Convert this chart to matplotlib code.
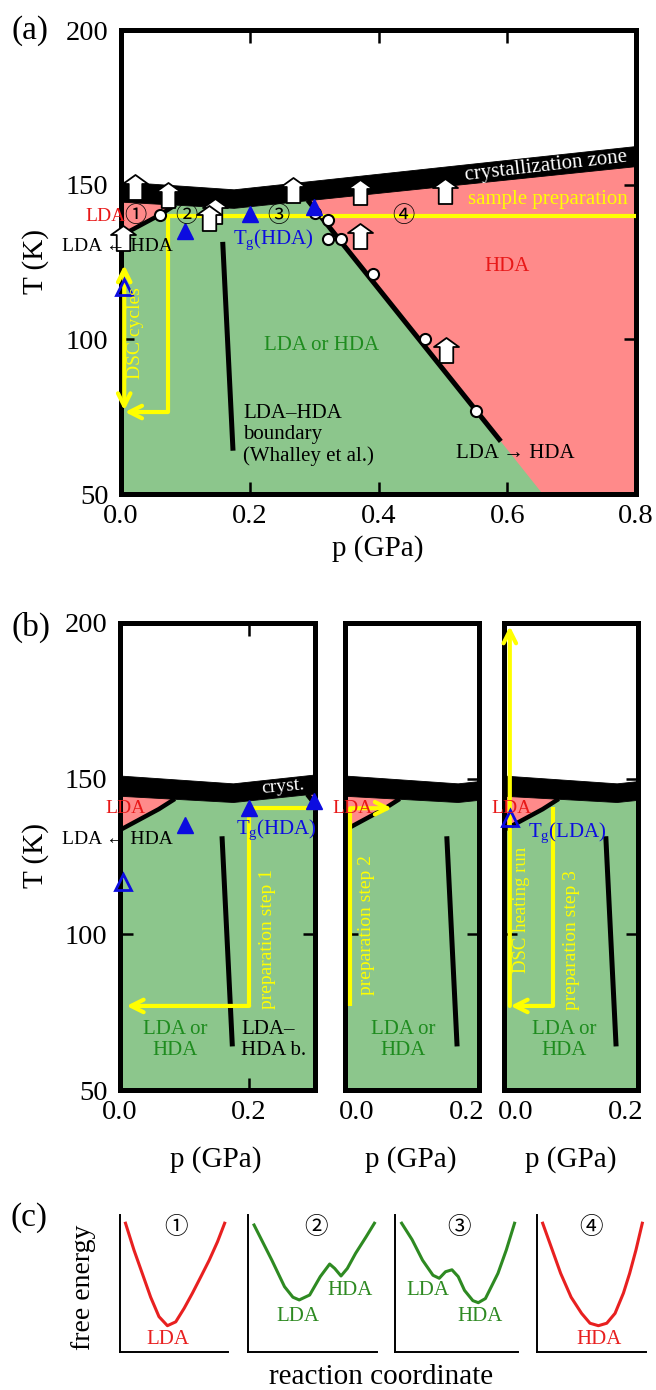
import matplotlib
matplotlib.use("Agg")
import matplotlib.pyplot as plt
from matplotlib.path import Path
from matplotlib.transforms import ScaledTranslation

plt.rcParams["font.family"] = ["Liberation Serif", "DejaVu Serif"]
plt.rcParams["mathtext.fontset"] = "custom"
plt.rcParams["mathtext.rm"] = "Liberation Serif"
plt.rcParams["mathtext.it"] = "Liberation Serif:italic"

# ─────────────────────────────────────────────
# phase diagram data  (p in GPa, T in K)
# ─────────────────────────────────────────────
CRYST_P = [0.0, 0.175, 0.8]
CRYST_TOP = [151.0, 148.5, 162.5]
CRYST_BOT = [144.5, 142.5, 156.0]

LDA_BND_P = [0.0, 0.06, 0.085]
LDA_BND_T = [133.5, 140.2, 143.5]

HDA_BND_P = [0.29, 0.59, 0.655]
HDA_BND_T = [145.0, 67.0, 50.0]

WHALLEY_P = [0.158, 0.174]
WHALLEY_T = [131.5, 64.0]

CIRCLE_P = [0.06, 0.301, 0.321, 0.321, 0.342, 0.391, 0.473, 0.552]
CIRCLE_T = [140.2, 140.8, 138.5, 132.3, 132.3, 121.0, 100.0, 76.8]

TG_HDA_P = [0.10, 0.20, 0.30]
TG_HDA_T = [135.0, 140.5, 142.8]
TG_LDA_A_P = [0.005]
TG_LDA_A_T = [116.8]
TG_LDA_B3_P = [0.009]
TG_LDA_B3_T = [137.4]

ARROW_P = [0.022, 0.073, 0.146, 0.136, 0.003, 0.267, 0.371, 0.503, 0.371, 0.505]
ARROW_T = [149.4, 146.7, 141.5, 139.2, 132.8, 148.4, 147.5, 147.8, 133.5, 96.5]

NUM_P = [0.022, 0.102, 0.244, 0.438]
NUM_T = [139.9, 139.9, 139.9, 139.9]
NUM_LABELS = ["①", "②", "③", "④"]

# yellow paths (last segment carries the arrow head)
PREP_A_P = [0.8, 0.073, 0.073, 0.006]
PREP_A_T = [140.0, 140.0, 76.5, 76.5]
DSC_A_P = [0.005, 0.005]
DSC_A_T = [77.0, 124.0]
PREP1_P = [0.302, 0.2, 0.2, 0.01]
PREP1_T = [140.5, 140.5, 77.0, 77.0]
PREP2_P = [0.008, 0.008, 0.073]
PREP2_T = [77.0, 140.5, 140.5]
PREP3_P = [0.076, 0.076, 0.01]
PREP3_T = [141.0, 77.0, 77.0]
DSC3_P = [0.009, 0.009]
DSC3_T = [77.0, 199.0]

T_TICKS = [50, 100, 150, 200]
T_LABELS = ["50", "100", "150", "200"]
P_TICKS_A = [0.0, 0.2, 0.4, 0.6, 0.8]
P_LABELS_A = ["0.0", "0.2", "0.4", "0.6", "0.8"]
P_TICKS_B = [0.0, 0.2]
P_LABELS_B = ["0.0", "0.2"]

# free-energy sketches (normalised reaction coordinate / energy)
C1_X = [0.051, 0.129, 0.206, 0.284, 0.361, 0.439, 0.516, 0.594, 0.671, 0.749, 0.826, 0.903, 0.969]
C1_Y = [0.94, 0.745, 0.574, 0.40, 0.258, 0.192, 0.22, 0.319, 0.43, 0.55, 0.67, 0.805, 0.94]
C2_X = [0.047, 0.185, 0.283, 0.348, 0.397, 0.478, 0.56, 0.633, 0.672, 0.721, 0.77, 0.834, 0.915, 0.98]
C2_Y = [0.927, 0.67, 0.477, 0.40, 0.38, 0.416, 0.55, 0.642, 0.61, 0.555, 0.61, 0.72, 0.84, 0.94]
C3_X = [0.054, 0.139, 0.224, 0.309, 0.36, 0.411, 0.463, 0.514, 0.565, 0.633, 0.677, 0.735, 0.837, 0.905, 0.972]
C3_Y = [0.94, 0.82, 0.67, 0.56, 0.538, 0.586, 0.60, 0.55, 0.45, 0.375, 0.36, 0.39, 0.574, 0.745, 0.94]
C4_X = [0.052, 0.14, 0.217, 0.313, 0.409, 0.486, 0.563, 0.64, 0.716, 0.793, 0.85, 0.908, 0.966]
C4_Y = [0.94, 0.745, 0.574, 0.40, 0.282, 0.21, 0.192, 0.21, 0.282, 0.43, 0.574, 0.745, 0.94]

# colours
GREEN_BG = "#8cc68c"
PINK_BG = "#ff8a8a"
RED = "#e81818"
DGREEN = "#1f8c1f"
BLUE = "#0c0ce0"
YELLOW = "#ffff00"
CURVE_RED = "#e82020"
CURVE_GREEN = "#2e8a22"

W, H = 656, 1390
fig = plt.figure(figsize=(W / 100, H / 100), dpi=100)

# block arrow marker pointing up
ARROW_MARK = Path([(-0.27, -0.5), (0.27, -0.5), (0.27, 0.14), (0.5, 0.14),
                   (0.0, 0.5), (-0.5, 0.14), (-0.27, 0.14), (-0.27, -0.5)],
                  closed=True)


def add_ax(x0, x1, y0, y1):
    return fig.add_axes([x0 / W, 1 - y1 / H, (x1 - x0) / W, (y1 - y0) / H])


def draw_phase(ax):
    ax.fill_between(CRYST_P, 0, CRYST_BOT, color=GREEN_BG, lw=0, zorder=0.2)
    ax.fill(LDA_BND_P + [0.0], LDA_BND_T + [CRYST_BOT[0]], color=PINK_BG, lw=0, zorder=0.3)
    ax.fill(HDA_BND_P + [CRYST_P[-1], CRYST_P[-1]], HDA_BND_T + [0, CRYST_BOT[-1]],
            color=PINK_BG, lw=0, zorder=0.3)
    ax.fill_between(CRYST_P, CRYST_BOT, CRYST_TOP, color="black", lw=0.6, zorder=0.4)
    ax.plot(LDA_BND_P, LDA_BND_T, color="black", lw=3.2, solid_capstyle="butt", zorder=0.6)
    ax.plot(HDA_BND_P[:2], HDA_BND_T[:2], color="black", lw=3.6, solid_capstyle="butt", zorder=0.6)
    ax.plot(WHALLEY_P, WHALLEY_T, color="black", lw=3.6, solid_capstyle="butt", zorder=0.6)


def frame(ax, xticks, xlabels, ylabels=True):
    for s in ax.spines.values():
        s.set_linewidth(3.6)
    ax.set_xticks(xticks, xlabels)
    ax.set_yticks(T_TICKS, T_LABELS if ylabels else [])
    ax.tick_params(direction="in", length=9, width=1.8, top=True, right=True,
                   labelsize=20.5, pad=7)
    ax.tick_params(axis="y", pad=9)


def yellow_path(ax, ps, ts, style="->"):
    if len(ps) > 2:
        ax.plot(ps[:-1], ts[:-1], color=YELLOW, lw=3, solid_joinstyle="miter",
                solid_capstyle="butt", zorder=3, clip_on=False)
    ax.annotate("", xy=(ps[-1], ts[-1]), xytext=(ps[-2], ts[-2]),
                arrowprops=dict(arrowstyle=style + ",head_length=0.9,head_width=0.45",
                                color=YELLOW, lw=3, shrinkA=0, shrinkB=0),
                zorder=3)


def txt(ax, x, y, s, color="black", size=15, **kw):
    kw.setdefault("ha", "center")
    kw.setdefault("va", "center")
    ax.text(x, y, s, color=color, fontsize=size, zorder=7, **kw)


# ─────────────────────────────────────────────
# (a)
# ─────────────────────────────────────────────
axa = add_ax(121, 636, 30, 494)
axa.set_xlim(0, 0.8)
axa.set_ylim(50, 200)
draw_phase(axa)
frame(axa, P_TICKS_A, P_LABELS_A)

yellow_path(axa, PREP_A_P, PREP_A_T)
yellow_path(axa, DSC_A_P, DSC_A_T, style="<->")

axa.plot(CIRCLE_P, CIRCLE_T, ls="none", marker="o", ms=8, mfc="white", mec="black",
         mew=1.5, zorder=5)
axa.plot(TG_HDA_P, TG_HDA_T, ls="none", marker="^", ms=12, color=BLUE, zorder=6, clip_on=False)
axa.plot(TG_LDA_A_P, TG_LDA_A_T, ls="none", marker="^", ms=11, mfc="none", mec=BLUE,
         mew=2, zorder=6, clip_on=False)
axa.plot(ARROW_P, ARROW_T, ls="none", marker=ARROW_MARK, ms=18, mfc="white", mec="black",
         mew=1.3, zorder=6, clip_on=False)

for p, t, s in zip(NUM_P, NUM_T, NUM_LABELS):
    axa.text(p, t, s, fontsize=16, family=["Noto Sans CJK JP"], ha="center", va="center", zorder=7)

txt(axa, -0.024, 139.7, "LDA", RED, 14)
txt(axa, -0.005, 130.0, "LDA ← HDA", "black", 14)
txt(axa, 0.174, 132.3, r"T$_{\mathrm{g}}$(HDA)", BLUE, 15, ha="left")
txt(axa, 0.023, 102.0, "DSC cycles", YELLOW, 14, rotation=90)
txt(axa, 0.312, 98.0, "LDA or HDA", DGREEN, 15)
txt(axa, 0.19, 69.0, "LDA–HDA\nboundary\n(Whalley et al.)", "black", 15, ha="left",
    linespacing=1.15)
txt(axa, 0.612, 63.0, "LDA → HDA", "black", 15)
txt(axa, 0.60, 123.4, "HDA", RED, 15)
txt(axa, 0.663, 145.2, "sample preparation", YELLOW, 15)
txt(axa, 0.66, 156.0, "crystallization zone", "white", 15, rotation=6.5,
    rotation_mode="anchor")

# ─────────────────────────────────────────────
# (b)
# ─────────────────────────────────────────────
b_boxes = [(120, 315, 0.302), (345, 479, 0.208), (504, 638, 0.208)]
axb = []
for i, (x0, x1, pmax) in enumerate(b_boxes):
    ax = add_ax(x0, x1, 623, 1090)
    ax.set_xlim(0, pmax)
    ax.set_ylim(50, 200)
    draw_phase(ax)
    frame(ax, P_TICKS_B, P_LABELS_B, ylabels=(i == 0))
    axb.append(ax)

b1, b2, b3 = axb
# b2 / b3: no visible x ticks, labels shifted like the original
for ax in (b2, b3):
    ax.tick_params(axis="x", length=0)
    for lbl, dx in zip(ax.get_xticklabels(), [11.5, -7.5]):
        lbl.set_transform(lbl.get_transform() + ScaledTranslation(dx / 100, 0, fig.dpi_scale_trans))

# b1
yellow_path(b1, PREP1_P, PREP1_T)
b1.plot(TG_HDA_P, TG_HDA_T, ls="none", marker="^", ms=12, color=BLUE, zorder=6, clip_on=False)
b1.plot(TG_LDA_A_P, TG_LDA_A_T, ls="none", marker="^", ms=11, mfc="none", mec=BLUE,
        mew=2, zorder=6, clip_on=False)
txt(b1, 0.008, 140.5, "LDA", RED, 14)
txt(b1, -0.004, 130.3, "LDA ← HDA", "black", 14)
txt(b1, 0.179, 133.5, r"T$_{\mathrm{g}}$(HDA)", BLUE, 15, ha="left")
txt(b1, 0.228, 98.5, "preparation step 1", YELLOW, 14, rotation=90)
txt(b1, 0.085, 66.0, "LDA or\nHDA", DGREEN, 15, linespacing=1.15)
txt(b1, 0.188, 66.0, "LDA–\nHDA b.", "black", 15, ha="left", linespacing=1.15)
txt(b1, 0.253, 147.3, "cryst.", "white", 14, rotation=5, rotation_mode="anchor")

# b2
yellow_path(b2, PREP2_P, PREP2_T)
txt(b2, 0.011, 140.5, "LDA", RED, 14)
txt(b2, 0.033, 103.0, "preparation step 2", YELLOW, 14, rotation=90)
txt(b2, 0.090, 66.0, "LDA or\nHDA", DGREEN, 15, linespacing=1.15)

# b3
yellow_path(b3, PREP3_P, PREP3_T)
yellow_path(b3, DSC3_P, DSC3_T)
b3.plot(TG_LDA_B3_P, TG_LDA_B3_T, ls="none", marker="^", ms=11, mfc="none", mec=BLUE,
        mew=2, zorder=6, clip_on=False)
txt(b3, 0.012, 140.5, "LDA", RED, 14)
txt(b3, 0.037, 132.5, r"T$_{\mathrm{g}}$(LDA)", BLUE, 15, ha="left")
txt(b3, 0.027, 108.0, "DSC heating run", YELLOW, 13.5, rotation=90)
txt(b3, 0.105, 98.0, "preparation step 3", YELLOW, 14, rotation=90)
txt(b3, 0.093, 66.0, "LDA or\nHDA", DGREEN, 15, linespacing=1.15)

# ─────────────────────────────────────────────
# (c)
# ─────────────────────────────────────────────
c_boxes = [(120, 228), (248, 377), (395, 518), (537, 646)]
c_curves = [(C1_X, C1_Y, CURVE_RED), (C2_X, C2_Y, CURVE_GREEN),
            (C3_X, C3_Y, CURVE_GREEN), (C4_X, C4_Y, CURVE_RED)]
c_labels = [
    [(0.44, 0.09, "LDA", CURVE_RED)],
    [(0.39, 0.26, "LDA", CURVE_GREEN), (0.79, 0.45, "HDA", CURVE_GREEN)],
    [(0.27, 0.45, "LDA", CURVE_GREEN), (0.69, 0.26, "HDA", CURVE_GREEN)],
    [(0.57, 0.09, "HDA", CURVE_RED)],
]
c_num_x = [0.52, 0.53, 0.52, 0.50]
for (x0, x1), (cx, cy, col), labs, nx, num in zip(c_boxes, c_curves, c_labels, c_num_x, NUM_LABELS):
    ax = add_ax(x0, x1, 1215, 1352)
    ax.set_xlim(0, 1)
    ax.set_ylim(0, 1)
    ax.plot(cx, cy, color=col, lw=2.2, solid_joinstyle="round")
    for s in ("top", "right"):
        ax.spines[s].set_visible(False)
    for s in ("left", "bottom"):
        ax.spines[s].set_linewidth(1.4)
    ax.set_xticks([])
    ax.set_yticks([])
    ax.patch.set_alpha(0)
    for lx, ly, s, c in labs:
        ax.text(lx, ly, s, color=c, fontsize=15, ha="center", va="center")
    ax.text(nx, 0.91, num, fontsize=17, family=["Noto Sans CJK JP"], ha="center", va="center")

# ─────────────────────────────────────────────
# labels outside the axes
# ─────────────────────────────────────────────
def ftext(x, y, s, size=21, **kw):
    fig.text(x / W, 1 - y / H, s, fontsize=size, ha="center", va="center", **kw)


ftext(30, 31, "(a)", 24)
ftext(31, 627, "(b)", 24)
ftext(29, 1218, "(c)", 24)
ftext(36, 262, "T (K)", rotation=90)
ftext(36, 856, "T (K)", rotation=90)
ftext(378, 549, "p (GPa)")
ftext(216, 1160, "p (GPa)")
ftext(411, 1160, "p (GPa)")
ftext(571, 1160, "p (GPa)")
ftext(84, 1287, "free energy", 20, rotation=90)
ftext(381, 1377, "reaction coordinate", 21)

fig.savefig("out.png", dpi=100)
